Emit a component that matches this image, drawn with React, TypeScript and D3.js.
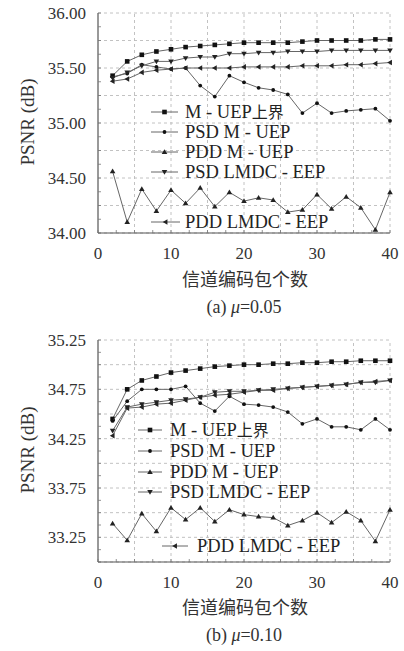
import React from "react";
import * as d3 from "d3";

// x values: number of channel-coded packets
const packets = [2, 4, 6, 8, 10, 12, 14, 16, 18, 20, 22, 24, 26, 28, 30, 32, 34, 36, 38, 40];

const seriesNames = ["M - UEP上界", "PSD M - UEP", "PDD M - UEP", "PSD LMDC - EEP", "PDD LMDC - EEP"];
const markerKinds = ["square", "circle", "triUp", "triDown", "triLeft"];

// (a) mu = 0.05
const a_mUepBound = [35.43, 35.56, 35.62, 35.65, 35.67, 35.69, 35.7, 35.71, 35.72, 35.73, 35.73, 35.73, 35.73, 35.74, 35.75, 35.75, 35.75, 35.75, 35.76, 35.76];
const a_psdMUep = [35.42, 35.45, 35.53, 35.51, 35.49, 35.5, 35.34, 35.24, 35.43, 35.37, 35.32, 35.3, 35.26, 35.09, 35.18, 35.09, 35.11, 35.12, 35.13, 35.02];
const a_pddMUep = [34.56, 34.1, 34.4, 34.2, 34.39, 34.27, 34.41, 34.24, 34.37, 34.29, 34.32, 34.3, 34.19, 34.21, 34.35, 34.22, 34.33, 34.23, 34.03, 34.37];
const a_psdLmdc = [35.41, 35.46, 35.52, 35.56, 35.56, 35.59, 35.6, 35.6, 35.63, 35.63, 35.64, 35.64, 35.65, 35.65, 35.65, 35.66, 35.66, 35.66, 35.66, 35.66];
const a_pddLmdc = [35.38, 35.4, 35.46, 35.48, 35.49, 35.5, 35.5, 35.5, 35.5, 35.51, 35.51, 35.51, 35.51, 35.52, 35.52, 35.52, 35.53, 35.53, 35.54, 35.55];

// (b) mu = 0.10
const b_mUepBound = [34.45, 34.75, 34.84, 34.88, 34.92, 34.94, 34.96, 34.98, 34.99, 35.0, 35.0, 35.01, 35.01, 35.02, 35.02, 35.03, 35.03, 35.04, 35.04, 35.04];
const b_psdMUep = [34.43, 34.63, 34.75, 34.75, 34.75, 34.78, 34.61, 34.53, 34.68, 34.6, 34.59, 34.57, 34.52, 34.4, 34.45, 34.37, 34.37, 34.34, 34.45, 34.34];
const b_pddMUep = [33.39, 33.22, 33.49, 33.31, 33.55, 33.43, 33.55, 33.41, 33.53, 33.48, 33.46, 33.45, 33.37, 33.42, 33.5, 33.4, 33.51, 33.42, 33.21, 33.53];
const b_psdLmdc = [34.33, 34.57, 34.6, 34.62, 34.64, 34.65, 34.67, 34.72, 34.73, 34.73, 34.74, 34.75, 34.76, 34.77, 34.78, 34.79, 34.8, 34.82, 34.82, 34.84];
const b_pddLmdc = [34.28, 34.56, 34.57, 34.6, 34.61, 34.64, 34.67, 34.69, 34.7, 34.72, 34.74, 34.74, 34.76, 34.77, 34.78, 34.79, 34.8, 34.82, 34.83, 34.84];

const xTicks = [0, 10, 20, 30, 40];
const a_yTicks = [34.0, 34.5, 35.0, 35.5, 36.0];
const b_yTicks = [33.25, 33.75, 34.25, 34.75, 35.25];

const serif = "'Liberation Serif', serif";
const cjk = "'Noto Sans CJK SC', sans-serif";

function Marker({ kind, x, y }: { kind: string; x: number; y: number }) {
  if (kind === "square") return <rect x={x - 2.3} y={y - 2.3} width={4.6} height={4.6} fill="#111" />;
  if (kind === "circle") return <circle cx={x} cy={y} r={1.9} fill="#111" />;
  const s = 2.8;
  let pts = "";
  if (kind === "triUp") pts = `${x},${y - s} ${x - s},${y + s * 0.7} ${x + s},${y + s * 0.7}`;
  if (kind === "triDown") pts = `${x},${y + s} ${x - s},${y - s * 0.7} ${x + s},${y - s * 0.7}`;
  if (kind === "triLeft") pts = `${x - s},${y} ${x + s * 0.7},${y - s} ${x + s * 0.7},${y + s}`;
  return <polygon points={pts} fill="#222" />;
}

type PanelProps = {
  series: number[][];
  yDomain: [number, number];
  yRange: [number, number];
  yTicks: number[];
  legendYs: number[];
  legendX: number[]; // [lineStart, lineEnd, textX] for first four
  lastLegendX: number[];
  yLabelY: number;
  xTickY: number;
  xLabelY: number;
  captionY: number;
  caption: string;
};

function Panel(p: PanelProps) {
  const x = d3.scaleLinear().domain([0, 40]).range([98, 390]);
  const y = d3.scaleLinear().domain(p.yDomain).range(p.yRange);
  const line = d3
    .line<number>()
    .x((d, i) => x(packets[i]))
    .y((d) => y(d));
  const gridY = d3.range(p.yDomain[0], p.yDomain[1] + 0.001, 0.25);
  const minorY = d3.range(p.yDomain[0], p.yDomain[1] + 0.001, 0.125);
  const gridX = d3.range(5, 40.1, 5);
  const minorX = d3.range(0, 40.1, 2.5);
  const [y0, y1] = p.yRange;
  const capParts = p.caption.split("μ");
  return (
    <g>
      {gridY.map((v) => (
        <line key={"gy" + v} x1={x(0)} x2={x(40)} y1={y(v)} y2={y(v)} stroke="#bbb" strokeDasharray="3,3" strokeWidth={0.9} />
      ))}
      {gridX.map((v) => (
        <line key={"gx" + v} x1={x(v)} x2={x(v)} y1={y0} y2={y1} stroke="#bbb" strokeDasharray="3,3" strokeWidth={0.9} />
      ))}
      <line x1={x(0)} x2={x(0)} y1={y0} y2={y1} stroke="#555" strokeWidth={1.2} />
      <line x1={x(0)} x2={x(40)} y1={y0} y2={y0} stroke="#555" strokeWidth={1.2} />
      {minorY.map((v) => (
        <line key={"my" + v} x1={x(0)} x2={x(0) + 3} y1={y(v)} y2={y(v)} stroke="#777" strokeWidth={0.8} />
      ))}
      {minorX.map((v) => (
        <line key={"mx" + v} x1={x(v)} x2={x(v)} y1={y0} y2={y0 - 3} stroke="#777" strokeWidth={0.8} />
      ))}
      {p.yTicks.map((v) => (
        <text key={"yt" + v} x={86} y={y(v)} dy="0.35em" textAnchor="end" fontFamily={serif} fontSize={17} fill="#333">
          {v.toFixed(2)}
        </text>
      ))}
      {xTicks.map((v) => (
        <text key={"xt" + v} x={x(v)} y={p.xTickY} dy="0.35em" textAnchor="middle" fontFamily={serif} fontSize={17} fill="#333">
          {v}
        </text>
      ))}
      <text
        transform={`translate(27,${p.yLabelY}) rotate(-90)`}
        textAnchor="middle"
        dy="0.35em"
        fontFamily={serif}
        fontSize={19}
        fill="#333"
      >
        PSNR (dB)
      </text>
      <text x={245} y={p.xLabelY} dy="0.35em" textAnchor="middle" fontFamily={cjk} fontSize={18} fill="#333">
        信道编码包个数
      </text>
      <text x={244} y={p.captionY} dy="0.35em" textAnchor="middle" fontFamily={serif} fontSize={18} fill="#333">
        {capParts[0]}
        <tspan fontStyle="italic">μ</tspan>
        {capParts[1]}
      </text>
      {p.series.map((vals, si) => (
        <g key={"s" + si}>
          <path d={line(vals) || ""} fill="none" stroke="#666" strokeWidth={1} />
          {vals.map((v, i) => (
            <Marker key={i} kind={markerKinds[si]} x={x(packets[i])} y={y(v)} />
          ))}
        </g>
      ))}
      {seriesNames.map((name, si) => {
        const lx = si === 4 ? p.lastLegendX : p.legendX;
        const ly = p.legendYs[si];
        return (
          <g key={"l" + si}>
            <line x1={lx[0]} x2={lx[1]} y1={ly} y2={ly} stroke="#666" strokeWidth={1} />
            <Marker kind={markerKinds[si]} x={(lx[0] + lx[1]) / 2} y={ly} />
            <text x={lx[2]} y={ly} dy="0.35em" fontFamily={serif} fontSize={18.5} fill="#222">
              {name.replace("上界", "")}
              {name.includes("上界") ? <tspan fontFamily={cjk} fontSize={16}>上界</tspan> : null}
            </text>
          </g>
        );
      })}
    </g>
  );
}

export default function App() {
  return (
    <svg width={404} height={651} style={{ position: "absolute", left: 0, top: 0, background: "#fff" }}>
      <rect width={404} height={651} fill="#fff" />
      <Panel
        series={[a_mUepBound, a_psdMUep, a_pddMUep, a_psdLmdc, a_pddLmdc]}
        yDomain={[34, 36]}
        yRange={[233, 13]}
        yTicks={a_yTicks}
        legendYs={[112, 132, 152, 172, 222]}
        legendX={[151, 178, 185]}
        lastLegendX={[151, 180, 185]}
        yLabelY={122}
        xTickY={253}
        xLabelY={280}
        captionY={307}
        caption="(a) μ=0.05"
      />
      <Panel
        series={[b_mUepBound, b_psdMUep, b_pddMUep, b_psdLmdc, b_pddLmdc]}
        yDomain={[33, 35.25]}
        yRange={[562, 340]}
        yTicks={b_yTicks}
        legendYs={[430, 451, 472, 492, 546]}
        legendX={[138, 162, 170]}
        lastLegendX={[162, 188, 197]}
        yLabelY={450}
        xTickY={582}
        xLabelY={608}
        captionY={635}
        caption="(b) μ=0.10"
      />
    </svg>
  );
}
